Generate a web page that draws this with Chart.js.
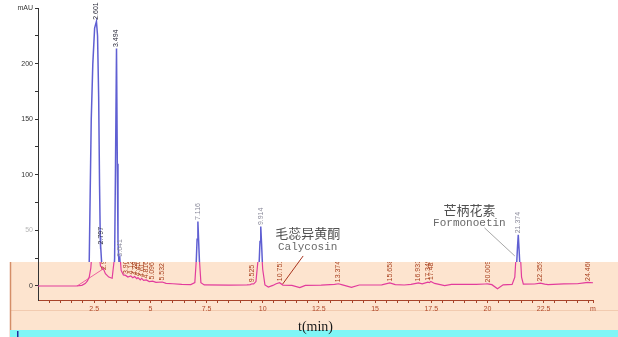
<!DOCTYPE html>
<html>
<head>
<meta charset="utf-8">
<script src="https://cdn.jsdelivr.net/npm/chart.js@4/dist/chart.umd.min.js"></script>
<style>
  html, body { margin: 0; padding: 0; background: #fff; }
  #chrom { display: block; }
</style>
</head>
<body>
<canvas id="chrom" width="618" height="337"></canvas>
<script>
// upper trace (blue): retention time (min) / absorbance (mAU)
const timeA = [0, 2.2, 2.28, 2.32, 2.37, 2.44, 2.52, 2.601, 2.65, 2.7, 2.74, 2.77, 2.78, 2.797, 2.82, 2.86, 2.95,
  3.3, 3.36, 3.41, 3.45, 3.494, 3.53, 3.56, 3.6, 3.641, 3.68, 3.8, 4.5, 6.0,
  6.97, 7.03, 7.08, 7.116, 7.15, 7.2, 7.26, 9.77, 9.83, 9.88, 9.914, 9.95, 10.0, 10.06,
  21.23, 21.29, 21.34, 21.374, 21.41, 21.46, 21.53, 24.7];
const mauA = [0, 0, 22, 80, 150, 200, 232, 238, 225, 170, 90, 45, 33, 36, 25, 12, 5,
  3, 3, 25, 110, 213.5, 110, 40, 22, 25, 12, 5, 2, 1,
  1, 15, 42, 58, 40, 14, 1, 1, 15, 40, 53.4, 38, 14, 1,
  1, 15, 35, 46, 33, 12, 1, 1];
const peaksA = ['2.601', '2.797', '3.494', '3.641', '7.116', '9.914', '21.374'];

// lower trace (pink)
const timeB = [0, 1.7, 1.95, 2.1, 2.2, 2.28, 2.35, 2.42, 2.6, 2.72, 2.78, 2.85, 2.92, 3.0, 3.15, 3.3, 3.4, 3.494, 3.58,
  3.641, 3.7, 3.8, 3.9, 4.0, 4.13, 4.22, 4.3, 4.4, 4.45, 4.55, 4.61, 4.7, 4.82, 4.95, 5.1, 5.25, 5.53, 5.7, 6.0,
  6.4, 6.8, 6.98, 7.05, 7.116, 7.18, 7.25, 7.4, 8.5, 9.3, 9.45, 9.525, 9.6, 9.7, 9.8, 9.914, 10.0, 10.1, 10.25,
  10.45, 10.6, 10.751, 10.9, 11.3, 11.65, 11.9, 12.6, 13.2, 13.374, 13.55, 13.95, 14.3, 15.3, 15.658, 15.9, 16.3,
  16.6, 16.933, 17.1, 17.349, 17.42, 17.482, 17.65, 17.95, 18.1, 18.4, 19.5, 19.9, 20.009, 20.2, 20.45, 20.7,
  21.1, 21.22, 21.3, 21.374, 21.45, 21.52, 21.6, 22.1, 22.359, 22.55, 22.7, 23.4, 24.0, 24.3, 24.466, 24.7];
const mauB = [0, 0, 0.6, 2.2, 4.5, 8, 16, 35, 80, 30, 18, 16.5, 15, 11, 8, 7, 25, 150, 22,
  30, 14, 10, 9.5, 8, 9, 7.5, 8.5, 6.5, 7.5, 5.5, 6.8, 5, 5.5, 4, 4.4, 3.2, 3.6, 2.4, 2,
  1.5, 1.3, 3, 25, 45, 25, 3, 1, 0.8, 1, 1.3, 2, 1.8, 4, 25, 45, 15, 1, -1,
  0.5, 2, 3, 0.8, 0.6, -1.5, 0.6, 0.8, 1.4, 2, 1, -1.2, 0.9, 1, 2.8, 1.2, 0.9,
  1.4, 2.8, 2, 3.4, 3, 4, 2.3, 1, 0.4, 1.4, 1.5, 1.8, 1.9, 1.2, -2.5, 1,
  1.4, 8, 35, 50, 35, 8, 1.6, 1.8, 2.6, 1.7, 1.3, 1.9, 2, 2.8, 3.2, 2.9];
// integration baseline under the first peaks
const baseTimeB = [1.74, 2.95];
const baseMauB = [0, 16];
const peaksB = ['2.961', '3.904', '4.127', '4.298', '4.452', '4.611', '4.816', '5.096', '5.532', '9.525',
  '10.751', '13.374', '15.658', '16.933', '17.349', '17.482', '20.009', '22.359', '24.466'];

const xMajor = [2.5, 5, 7.5, 10, 12.5, 15, 17.5, 20, 22.5];
const xMinorStep = 0.5;
const X_MAX = 24.7, X_UNIT = 'm';
const yMajor = [0, 50, 100, 150, 200];
const yMinorStep = 25;
const Y_MIN = -12.6, Y_MAX = 250, Y_UNIT = 'mAU';

// lower trace sits on its own pasted panel starting at this level
const PANEL_TOP = 21.6;

const notes = [
  { zh: '毛蕊异黄酮', en: 'Calycosin', x: 12.0, yZh: 47.7, yEn: 35.1, from: [11.8, 27], to: [10.89, 1.8], color: '#a8341e' },
  { zh: '芒柄花素', en: 'Formonoetin', x: 19.2, yZh: 68.5, yEn: 56.8, from: [19.87, 52.3], to: [21.22, 27], color: '#a8a8a8' }
];

const toPts = (t, v) => t.map((x, i) => ({ x: x, y: v[i] }));

function valueAt(t, v, x) {
  for (let i = 1; i < t.length; i++) {
    if (x <= t[i]) {
      const f = (x - t[i - 1]) / (t[i] - t[i - 1]);
      return v[i - 1] + f * (v[i] - v[i - 1]);
    }
  }
  return v[v.length - 1];
}

function panelTopPx(chart) {
  return chart.scales.y.getPixelForValue(PANEL_TOP);
}

// page background, pasted panel and bottom strip
const backdrop = {
  id: 'backdrop',
  beforeDraw(chart) {
    const { ctx, width, height } = chart;
    const top = panelTopPx(chart);
    ctx.save();
    ctx.fillStyle = '#fff';
    ctx.fillRect(0, 0, width, height);
    ctx.fillStyle = '#fde4cf';
    ctx.fillRect(10, top, width - 10, height - top);
    ctx.strokeStyle = '#f2cbb0';
    ctx.lineWidth = 1;
    ctx.beginPath();
    ctx.moveTo(10, 310.5);
    ctx.lineTo(width, 310.5);
    ctx.stroke();
    ctx.strokeStyle = '#d48e68';
    ctx.lineWidth = 1.5;
    ctx.beginPath();
    ctx.moveTo(10.5, top);
    ctx.lineTo(10.5, height);
    ctx.stroke();
    ctx.fillStyle = '#7ff6f6';
    ctx.fillRect(10, 330, width - 10, height - 330);
    ctx.fillStyle = '#2030a0';
    ctx.fillRect(17, 331, 1.5, 6);
    ctx.restore();
  },
  // blue trace only above the panel, pink trace only inside it
  beforeDatasetDraw(chart, args) {
    const { ctx, width, height } = chart;
    const top = panelTopPx(chart);
    ctx.save();
    ctx.beginPath();
    if (args.index === 0) ctx.rect(0, 0, width, top);
    else ctx.rect(0, top, width, height - top);
    ctx.clip();
  },
  afterDatasetDraw(chart) {
    chart.ctx.restore();
  },
  afterDatasetsDraw(chart) {
    const { ctx, width, height } = chart;
    const sx = chart.scales.x, sy = chart.scales.y;
    const top = panelTopPx(chart);

    const drawPeakLabels = (labels, t, v, color) => {
      ctx.fillStyle = color;
      labels.forEach(lbl => {
        const rt = parseFloat(lbl);
        const px = sx.getPixelForValue(rt);
        const py = sy.getPixelForValue(valueAt(t, v, rt));
        ctx.save();
        ctx.translate(px, py - 1.5);
        ctx.rotate(-Math.PI / 2);
        ctx.fillText(lbl, 0, 0);
        ctx.restore();
      });
    };

    ctx.save();
    ctx.font = '7px "Liberation Sans", Arial, sans-serif';
    ctx.textAlign = 'left';
    ctx.textBaseline = 'middle';

    ctx.save();
    ctx.beginPath();
    ctx.rect(0, 0, width, top);
    ctx.clip();
    drawPeakLabels(peaksA.slice(0, 3), timeA, mauA, '#2a2a3a');
    drawPeakLabels(peaksA.slice(3), timeA, mauA, '#8a8a9a');
    ctx.restore();

    ctx.save();
    ctx.beginPath();
    ctx.rect(0, top, width, height - top);
    ctx.clip();
    drawPeakLabels(peaksB, timeB, mauB, '#a8401f');
    ctx.restore();

    // compound annotations
    notes.forEach(n => {
      ctx.strokeStyle = n.color;
      ctx.lineWidth = 1;
      ctx.beginPath();
      ctx.moveTo(sx.getPixelForValue(n.from[0]), sy.getPixelForValue(n.from[1]));
      ctx.lineTo(sx.getPixelForValue(n.to[0]), sy.getPixelForValue(n.to[1]));
      ctx.stroke();
      ctx.textAlign = 'center';
      ctx.fillStyle = '#505050';
      ctx.font = '13px "Noto Sans CJK SC", sans-serif';
      ctx.fillText(n.zh, sx.getPixelForValue(n.x), sy.getPixelForValue(n.yZh));
      ctx.fillStyle = '#6a6a6a';
      ctx.font = '11px "Liberation Mono", monospace';
      ctx.fillText(n.en, sx.getPixelForValue(n.x), sy.getPixelForValue(n.yEn));
    });
    ctx.restore();
  }
};

const canvas = document.getElementById('chrom');

new Chart(canvas, {
  type: 'line',
  data: {
    datasets: [
      {
        label: 'A',
        data: toPts(timeA, mauA),
        borderColor: 'rgba(78,78,205,0.9)',
        borderWidth: 1.5,
        pointRadius: 0,
        tension: 0
      },
      {
        label: 'B',
        data: toPts(timeB, mauB),
        borderColor: '#e23c9c',
        borderWidth: 1.2,
        pointRadius: 0,
        tension: 0
      },
      {
        label: 'B baseline',
        data: toPts(baseTimeB, baseMauB),
        borderColor: '#f0609f',
        borderWidth: 1,
        pointRadius: 0,
        tension: 0
      }
    ]
  },
  options: {
    responsive: false,
    animation: false,
    devicePixelRatio: 1,
    layout: { padding: { top: 8, right: 25, left: 0, bottom: 0 } },
    plugins: { legend: { display: false }, tooltip: { enabled: false } },
    scales: {
      x: {
        type: 'linear',
        min: 0,
        max: X_MAX,
        afterBuildTicks: (s) => {
          const ticks = [];
          for (let v = xMinorStep; v < X_MAX; v += xMinorStep) ticks.push({ value: Math.round(v * 10) / 10 });
          ticks.push({ value: X_MAX });
          s.ticks = ticks;
        },
        afterFit: (s) => { s.height = 37; },
        ticks: {
          autoSkip: false,
          maxRotation: 0,
          padding: 2,
          color: '#b0482a',
          font: { family: 'Liberation Sans', size: 7 },
          callback: (v) => v === X_MAX ? X_UNIT : (xMajor.includes(v) ? String(v) : '')
        },
        grid: { drawOnChartArea: false, tickLength: 3, color: '#a8442a' },
        border: { color: '#a8442a', width: 1 },
        title: {
          display: true,
          text: 't(min)',
          color: '#1a1a1a',
          font: { family: 'Liberation Serif', size: 14 },
          padding: { top: 0, bottom: 1 }
        }
      },
      y: {
        type: 'linear',
        min: Y_MIN,
        max: Y_MAX,
        afterBuildTicks: (s) => {
          const ticks = [];
          for (let v = 0; v <= Y_MAX; v += yMinorStep) ticks.push({ value: v });
          s.ticks = ticks;
        },
        afterFit: (s) => { s.width = 38; },
        ticks: {
          autoSkip: false,
          padding: 2,
          color: (c) => c.tick && c.tick.value === 50 ? '#b8b8b8' : '#333',
          font: { family: 'Liberation Sans', size: 7 },
          callback: (v) => v === Y_MAX ? Y_UNIT : (yMajor.includes(v) ? String(v) : '')
        },
        grid: { drawOnChartArea: false, tickLength: 3, color: '#333' },
        border: { color: '#333', width: 1 }
      }
    }
  },
  plugins: [backdrop]
});
</script>
</body>
</html>
